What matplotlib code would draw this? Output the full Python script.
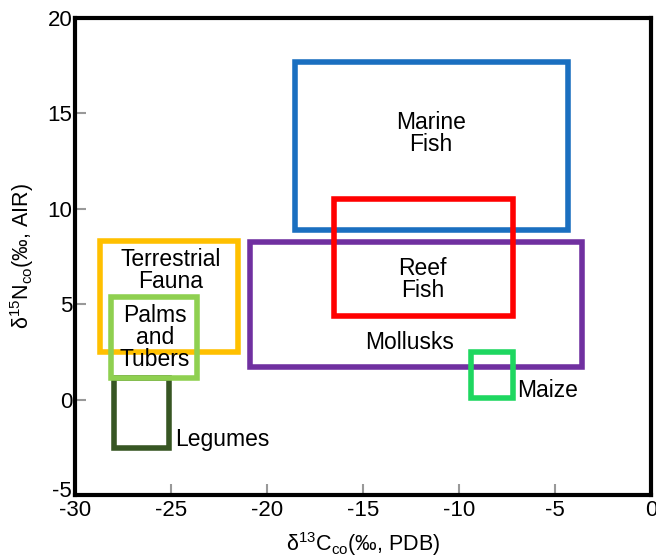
import matplotlib.pyplot as plt
import matplotlib.transforms as mtransforms
from matplotlib.patches import Rectangle

plt.rcParams['font.family'] = ['Liberation Sans', 'DejaVu Sans']
plt.rcParams['mathtext.fontset'] = 'custom'
plt.rcParams['mathtext.rm'] = 'Liberation Sans'
plt.rcParams['mathtext.it'] = 'Liberation Sans'
plt.rcParams['axes.unicode_minus'] = False

# Food groups: (x min, x max) in d13C, (y min, y max) in d15N
groups = ["Marine Fish", "Reef Fish", "Mollusks", "Maize",
          "Terrestrial Fauna", "Legumes", "Palms and Tubers"]
x_lo = [-18.55, -16.5, -20.9, -9.35, -28.7, -27.95, -28.1]
x_hi = [-4.3, -7.2, -3.6, -7.2, -21.5, -25.1, -23.65]
y_lo = [8.9, 4.4, 1.7, 0.1, 2.5, -2.55, 1.15]
y_hi = [17.7, 10.5, 8.25, 2.5, 8.3, 1.15, 5.4]
colors = ["#1a6fc0", "#ff0000", "#7030a0", "#1ed760",
          "#ffc000", "#375623", "#8fd050"]
zorder = [2, 3, 2, 4, 2, 3, 4]

# label text and where it sits
labels = ["Marine\nFish", "Reef\nFish", "Mollusks", "Maize",
          "Terrestrial\nFauna", "Legumes", "Palms\nand\nTubers"]
lab_x = [-11.45, -11.9, -12.55, -6.95, -25.0, -24.8, -25.85]
lab_y = [13.95, 6.3, 3.0, 0.5, 6.75, -2.1, 3.25]
lab_ha = ["center", "center", "center", "left", "center", "left", "center"]

fig = plt.figure(figsize=(6.56, 5.57), dpi=100)
ax = fig.add_axes([0.1143, 0.1113, 0.8781, 0.8564])

for i in range(len(groups)):
    r = Rectangle((x_lo[i], y_lo[i]), x_hi[i] - x_lo[i], y_hi[i] - y_lo[i],
                  fill=False, edgecolor=colors[i], linewidth=4,
                  joinstyle='miter', zorder=zorder[i])
    ax.add_patch(r)
    ax.text(lab_x[i], lab_y[i], labels[i], ha=lab_ha[i], va='center',
            fontsize=16.5, linespacing=0.96, zorder=5)

ax.set_xlim(-30, 0)
ax.set_ylim(-5, 20)
ax.set_xticks(range(-30, 1, 5))
ax.set_yticks(range(-5, 21, 5))
ax.tick_params(direction='in', length=8, width=1.5, color='#999999',
               labelsize=16, pad=2)
ax.tick_params(axis='x', pad=3.5)
for s in ax.spines.values():
    s.set_linewidth(3)

# nudge the bottom y label up so it doesn't sit on "-30"
lab = ax.get_yticklabels()[0]
lab.set_transform(lab.get_transform() +
                  mtransforms.ScaledTranslation(0, 4 / 72, fig.dpi_scale_trans))

ax.set_xlabel(r'$\mathregular{\delta^{13}C_{co}}$(‰, PDB)', fontsize=15.5, labelpad=7)
ax.set_ylabel(r'$\mathregular{\delta^{15}N_{co}}$(‰, AIR)', fontsize=15.5, labelpad=8)

plt.savefig("out.png", dpi=100)
